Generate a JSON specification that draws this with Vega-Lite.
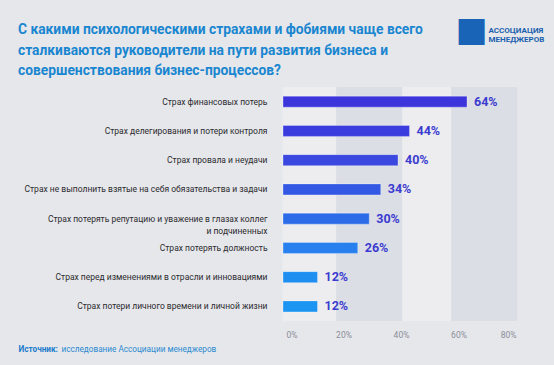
{
  "$schema": "https://vega.github.io/schema/vega-lite/v6.json",
  "width": 230,
  "height": 234,
  "autosize": {"type": "none"},
  "padding": {"left": 283, "top": 87, "right": 41, "bottom": 44},
  "background": "#e6e7eb",
  "config": {
    "view": {"stroke": null},
    "font": "Roboto"
  },
  "title": {
    "text": [
      "С какими психологическими страхами и фобиями чаще всего",
      "сталкиваются руководители на пути развития бизнеса и",
      "совершенствования бизнес-процессов?"
    ],
    "anchor": "start",
    "frame": "group",
    "dx": -265,
    "offset": -65,
    "fontSize": 13.8,
    "lineHeight": 20.5,
    "fontWeight": "bold",
    "color": "#1a86d0",
    "font": "Roboto"
  },
  "datasets": {
    "fears": [
      {"fear": "Страх финансовых потерь", "share": 0.64},
      {"fear": "Страх делегирования и потери контроля", "share": 0.44},
      {"fear": "Страх провала и неудачи", "share": 0.40},
      {"fear": "Страх не выполнить взятые на себя обязательства и задачи", "share": 0.34},
      {"fear": "Страх потерять репутацию и уважение в глазах коллег и подчиненных", "share": 0.30},
      {"fear": "Страх потерять должность", "share": 0.26},
      {"fear": "Страх перед изменениями в отрасли и инновациями", "share": 0.12},
      {"fear": "Страх потери личного времени и личной жизни", "share": 0.12}
    ],
    "bands": [
      {"from": 0, "to": 0.185, "shade": "light"},
      {"from": 0.185, "to": 0.415, "shade": "dark"},
      {"from": 0.415, "to": 0.585, "shade": "light"},
      {"from": 0.585, "to": 0.815, "shade": "dark"}
    ]
  },
  "resolve": {
    "axis": {"x": "independent", "y": "independent"},
    "scale": {"color": "independent"}
  },
  "layer": [
    {
      "data": {"name": "bands"},
      "mark": {"type": "rect", "clip": false},
      "encoding": {
        "x": {"field": "from", "type": "quantitative", "scale": {"domain": [0, 0.8]}, "axis": null},
        "x2": {"field": "to"},
        "color": {
          "field": "shade",
          "type": "nominal",
          "scale": {"domain": ["light", "dark"], "range": ["#ededf0", "#dcdee6"]},
          "legend": null
        }
      }
    },
    {
      "data": {"name": "fears"},
      "mark": {"type": "bar", "size": 11, "stroke": "#ffffff", "strokeOpacity": 0.3, "strokeWidth": 1},
      "encoding": {
        "y": {
          "field": "fear",
          "type": "nominal",
          "sort": null,
          "scale": {"paddingInner": 0, "paddingOuter": 0},
          "axis": {
            "title": "исследование Ассоциации менеджеров",
            "titleAngle": 0,
            "titleX": -222,
            "titleY": 262,
            "titleAlign": "left",
            "titleBaseline": "middle",
            "titleFontSize": 8.2,
            "titleFontWeight": "normal",
            "titleColor": "#2a8ad0",
            "ticks": false,
            "domain": true,
            "domainColor": "#f3f3f6",
            "domainWidth": 1.5,
            "labelPadding": 16,
            "labelFontSize": 8.5,
            "labelColor": "#2b2b2e",
            "labelLimit": 320,
            "labelLineHeight": 12,
            "labelExpr": "datum.label == 'Страх потерять репутацию и уважение в глазах коллег и подчиненных' ? ['Страх потерять репутацию и уважение в глазах коллег', 'и подчиненных'] : datum.label"
          }
        },
        "x": {
          "field": "share",
          "type": "quantitative",
          "scale": {"domain": [0, 0.8]},
          "axis": {
            "values": [0, 0.2, 0.4, 0.6, 0.8],
            "format": ".0%",
            "grid": false,
            "ticks": false,
            "domain": false,
            "labelColor": "#8a8e98",
            "labelFontSize": 8.5,
            "labelPadding": 9,
            "labelOffset": 3,
            "title": "Источник:",
            "titleX": -265,
            "titleY": 28,
            "titleAlign": "left",
            "titleBaseline": "middle",
            "titleFontSize": 8.2,
            "titleFontWeight": "bold",
            "titleColor": "#1a7ccc"
          }
        },
        "color": {
          "field": "fear",
          "type": "nominal",
          "sort": null,
          "scale": {"range": ["#3c35dc", "#3b3cdd", "#3a48df", "#3358e3", "#2c6be8", "#2780ed", "#1f8ef1", "#1c94f2"]},
          "legend": null
        }
      }
    },
    {
      "data": {"name": "fears"},
      "mark": {"type": "text", "align": "left", "baseline": "middle", "dx": 7, "fontSize": 12.5, "fontWeight": "bold", "color": "#3b3ccf"},
      "encoding": {
        "y": {"field": "fear", "type": "nominal", "sort": null, "axis": null},
        "x": {"field": "share", "type": "quantitative", "axis": null},
        "text": {"field": "share", "type": "quantitative", "format": ".0%"}
      }
    },
    {
      "data": {"name": "fears"},
      "mark": {"type": "text", "opacity": 0},
      "encoding": {
        "y": {
          "field": "fear",
          "type": "nominal",
          "sort": null,
          "axis": {
            "orient": "right",
            "labels": false,
            "ticks": false,
            "domain": false,
            "title": ["АССОЦИАЦИЯ", "МЕНЕДЖЕРОВ"],
            "titleAngle": 0,
            "titleX": -25,
            "titleY": -57,
            "titleAlign": "left",
            "titleBaseline": "middle",
            "titleFontSize": 8,
            "titleLineHeight": 9,
            "titleFontWeight": "bold",
            "titleColor": "#1b5fae"
          }
        },
        "x": {
          "field": "share",
          "type": "quantitative",
          "axis": {
            "orient": "top",
            "labels": false,
            "ticks": false,
            "domain": false,
            "grid": false,
            "title": "■",
            "titleFont": "DejaVu Sans",
            "titleX": 188,
            "titleY": -57,
            "titleAlign": "center",
            "titleBaseline": "middle",
            "titleFontSize": 34,
            "titleFontWeight": "normal",
            "titleColor": "#1a64b8"
          }
        },
        "text": {"value": ""}
      }
    }
  ]
}
